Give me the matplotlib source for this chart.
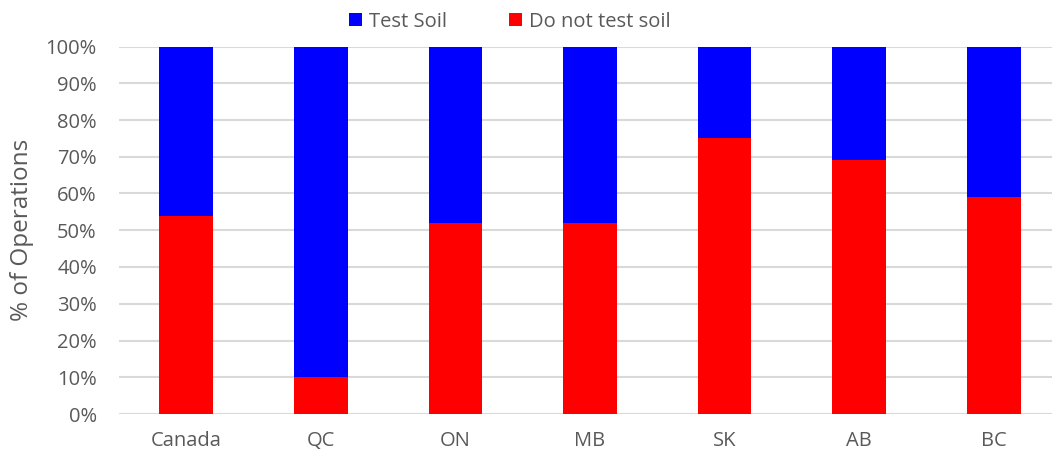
import numpy as np
import matplotlib.pyplot as plt

regions = ['Canada', 'QC', 'ON', 'MB', 'SK', 'AB', 'BC']
no_test = [54, 10, 52, 52, 75, 69, 59]
test = [100 - v for v in no_test]
yticks = list(range(0, 101, 10))

plt.rcParams['font.family'] = ['Open Sans', 'DejaVu Sans']
grey = '#595959'

fig = plt.figure(figsize=(10.52, 4.53), dpi=100)
W, H = 1052, 453
ax = fig.add_axes([119 / W, 39 / H, (W - 119) / W, 367.5 / H])

x = np.arange(len(regions))
ax.bar(x, no_test, width=0.4, color='#ff0000', label='Do not test soil', zorder=3)
ax.bar(x, test, width=0.4, bottom=no_test, color='#0000ff', label='Test Soil', zorder=3)

ax.set_ylim(0, 100)
ax.set_xlim(-0.5, 6.5 - 9 / 134.6)
ax.set_yticks(yticks)
ax.set_yticklabels([f'{t}%' for t in yticks])
ax.set_xticks(x)
ax.set_xticklabels(regions)
ax.tick_params(length=0, labelsize=14.5, colors=grey)
ax.tick_params(axis='y', pad=16)
ax.tick_params(axis='x', pad=12)
ax.grid(axis='y', color='#d9d9d9', linewidth=1.5, zorder=0)
for s in ax.spines.values():
    s.set_visible(False)

ax.set_ylabel('% of Operations', fontsize=17.5, color=grey, labelpad=8)

handles, labels = ax.get_legend_handles_labels()
fig.legend(handles[::-1], labels[::-1], loc='center', bbox_to_anchor=(510 / W, 1 - 22 / H),
           ncol=2, frameon=False, fontsize=14.5, labelcolor=grey,
           handlelength=0.62, handleheight=0.62, handletextpad=0.35, columnspacing=3.1)

fig.savefig('out.png', dpi=100)
